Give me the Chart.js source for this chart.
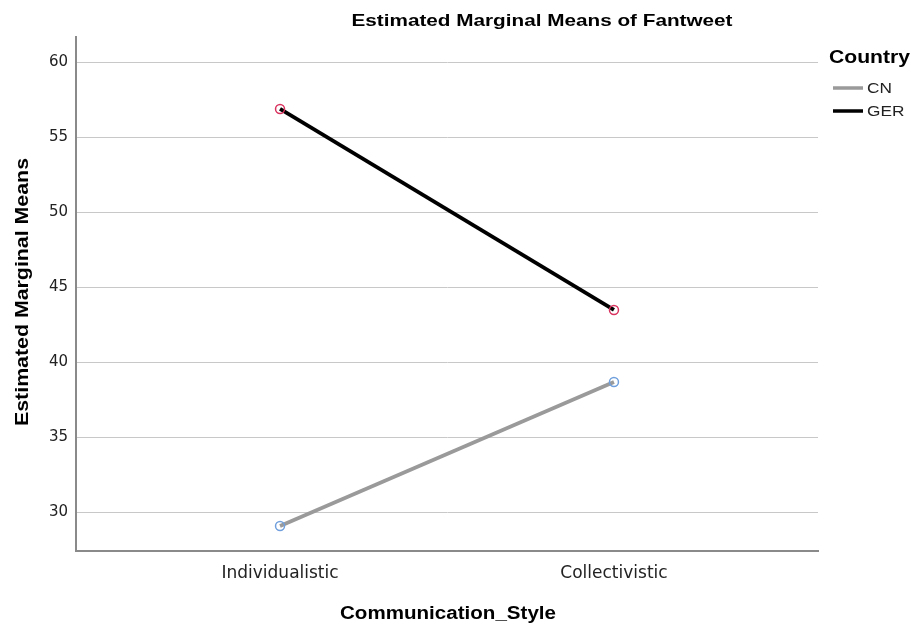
<!DOCTYPE html>
<html><head><meta charset="utf-8">
<script src="https://cdn.jsdelivr.net/npm/chart.js@4/dist/chart.umd.min.js"></script>
<style>html,body{margin:0;padding:0;background:#fff}#wrap{width:911px;height:626px}</style>
</head><body><div id="wrap"><canvas id="c" width="911" height="626"></canvas></div>
<script>
const categories = ["Individualistic", "Collectivistic"];
const seriesNames = ["CN", "GER"];
const cnValues = [29.07, 38.67];
const gerValues = [56.87, 43.47];
const yTicks = [30, 35, 40, 45, 50, 55, 60];
const chartTitle = "Estimated Marginal Means of Fantweet";
const xTitle = "Communication_Style";
const yTitle = "Estimated Marginal Means";
const legendTitle = "Country";

const FONT = "'Liberation Sans', Arial, sans-serif";
const TICKFONT = "'DejaVu Sans', sans-serif";
const colors = { CN: "#9a9a9a", GER: "#000000" };
const markerColors = { CN: "#6f9fdc", GER: "#d9325e" };

function toPoints(vals){ return vals.map((v,i)=>({x:i+1,y:v})); }

// draw text horizontally stretched to a target width, anchored by align
function fitText(ctx, text, x, y, width, align){
  const w = ctx.measureText(text).width;
  const k = width / w;
  ctx.save();
  ctx.translate(x, y);
  ctx.scale(k, 1);
  ctx.textAlign = align;
  ctx.fillText(text, 0, 0);
  ctx.restore();
}

const decor = {
  id: 'decor',
  afterDraw(chart){
    const ctx = chart.ctx;
    ctx.save();
    ctx.fillStyle = '#000';
    ctx.textBaseline = 'middle';
    ctx.font = "bold 17px " + FONT;
    fitText(ctx, chartTitle, 542, 21, 381, 'center');
    ctx.font = "bold 17.5px " + FONT;
    fitText(ctx, xTitle, 448, 614, 216, 'center');
    ctx.save();
    ctx.translate(23, 292);
    ctx.rotate(-Math.PI/2);
    fitText(ctx, yTitle, 0, 0, 268, 'center');
    ctx.restore();
    // legend
    ctx.font = "bold 18.5px " + FONT;
    fitText(ctx, legendTitle, 829, 58, 81, 'left');
    ctx.font = "15px " + FONT;
    chart.data.datasets.forEach((ds, i) => {
      const y = 88 + i*23;
      ctx.strokeStyle = ds.borderColor; ctx.lineWidth = 3.5;
      ctx.beginPath(); ctx.moveTo(833, y); ctx.lineTo(863, y); ctx.stroke();
      ctx.fillStyle = '#222';
      const tw = ctx.measureText(ds.label).width;
      fitText(ctx, ds.label, 867, y+1, tw*1.15, 'left');
    });
    ctx.restore();
  }
};

new Chart(document.getElementById('c'), {
  type: 'line',
  data: {
    datasets: [
      { label: seriesNames[0], data: toPoints(cnValues), borderColor: colors.CN, borderWidth: 3.8,
        pointRadius: 4.5, pointBorderWidth: 1.5, pointBorderColor: markerColors.CN, pointBackgroundColor: 'rgba(255,255,255,0)' },
      { label: seriesNames[1], data: toPoints(gerValues), borderColor: colors.GER, borderWidth: 3.8,
        pointRadius: 4.5, pointBorderWidth: 1.5, pointBorderColor: markerColors.GER, pointBackgroundColor: 'rgba(255,255,255,0)' }
    ]
  },
  options: {
    responsive: false, animation: false, devicePixelRatio: 1,
    layout: { padding: { left: 0, right: 93, top: 37, bottom: 0 } },
    plugins: { legend: { display: false }, title: { display: false }, tooltip: { enabled: false } },
    scales: {
      x: {
        type: 'linear', min: 0.389, max: 2.611,
        afterBuildTicks(s){ s.ticks = categories.map((c,i)=>({value:i+1})); },
        afterFit(s){ s.height = 75; },
        ticks: { callback: (v)=>categories[Math.round(v)-1] ?? '', color: '#222', font: { family: TICKFONT, size: 17 }, padding: 12, autoSkip: false, maxRotation: 0 },
        grid: { display: false, drawTicks: false },
        border: { display: true, color: '#8a8a8a', width: 2 }
      },
      y: {
        min: 27.4, max: 61.67,
        afterBuildTicks(s){ s.ticks = yTicks.map(v=>({value:v})); },
        afterFit(s){ s.width = 76; },
        ticks: { color: '#222', font: { family: TICKFONT, size: 15 }, padding: 8 },
        grid: { color: '#c8c8c8', lineWidth: 1, drawTicks: false },
        border: { display: true, color: '#8a8a8a', width: 2 }
      }
    }
  },
  plugins: [decor]
});
</script></body></html>
